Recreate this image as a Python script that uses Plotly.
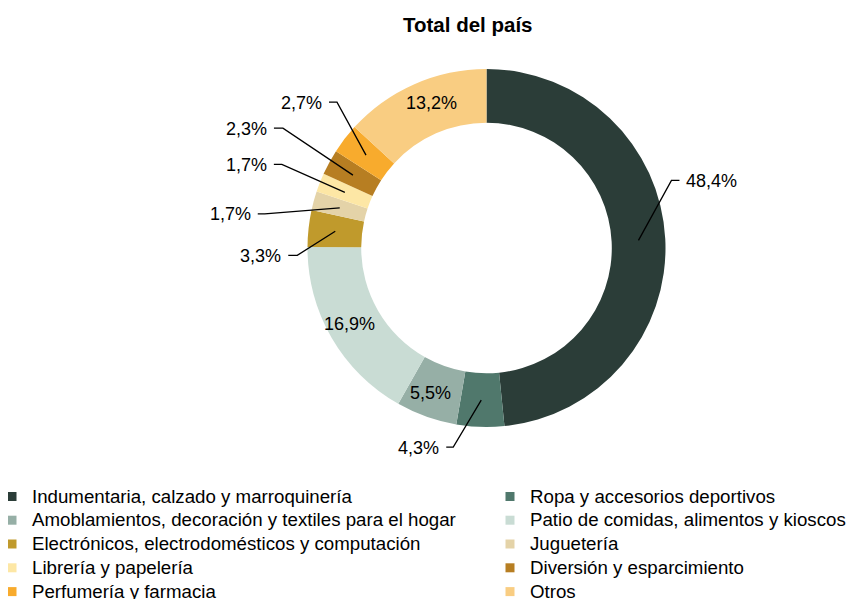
import math
import plotly.graph_objects as go

PAGE_OFFSET = 8  # the page body margin that the browser puts around the figure
W, H = 855 - PAGE_OFFSET, 599 - PAGE_OFFSET

# ---------------- data ----------------
title_text = "Total del país"
categories = [
    "Indumentaria, calzado y marroquinería",
    "Ropa y accesorios deportivos",
    "Amoblamientos, decoración y textiles para el hogar",
    "Patio de comidas, alimentos y kioscos",
    "Electrónicos, electrodomésticos y computación",
    "Juguetería",
    "Librería y papelería",
    "Diversión y esparcimiento",
    "Perfumería y farmacia",
    "Otros",
]
values = [48.4, 4.3, 5.5, 16.9, 3.3, 1.7, 1.7, 2.3, 2.7, 13.2]

# ---------------- style ----------------
colors = ["#2B3D38", "#50786C", "#96AFA6", "#C9DCD4", "#C09A2C",
          "#E4D3A8", "#FDE7A5", "#B77E22", "#F8AB2D", "#F9CD82"]
# label placement: ("in", dx, dy) or ("out", elbow_dx, elbow_dy, horizontal_len)
label_style = [
    ("out", 33, -60, 8),
    ("out", -28, 47, -7),
    ("in", -5, 2),
    ("in", -5, 0),
    ("out", -38, 24, -9),
    ("out", -75, 6, -7),
    ("out", -63, -28, -8),
    ("out", -70, -47, -9),
    ("out", -29, -53, -8),
    ("in", 6, -6),
]
FONT = "Arial, Liberation Sans, sans-serif"
# pie placement in page pixels
PIE_CX, PIE_CY, PIE_R = 486.5, 248.0, 179.0
HOLE = 0.70


def px(x):
    return (x - PAGE_OFFSET) / W


def py(y):
    return 1 - (y - PAGE_OFFSET) / H


domain_x = [px(PIE_CX - PIE_R), px(PIE_CX + PIE_R)]
domain_y = [py(PIE_CY + PIE_R), py(PIE_CY - PIE_R)]

fig = go.Figure()
fig.add_trace(go.Pie(
    labels=categories, values=values, sort=False, direction="clockwise",
    rotation=0, hole=HOLE, marker=dict(colors=colors, line=dict(width=0)),
    textinfo="none", hoverinfo="label+percent", showlegend=False,
    domain=dict(x=domain_x, y=domain_y),
))

# legend entries (two columns, as two legends)
for i, (cat, col) in enumerate(zip(categories, colors)):
    fig.add_trace(go.Scatter(
        x=[None], y=[None], mode="markers",
        name=f'<span style="font-size:18.7px">{cat}</span>',
        marker=dict(symbol="square", size=9, color=col),
        legend="legend" if i % 2 == 0 else "legend2", hoverinfo="skip",
    ))

# geometry of the pie in pixels (derived from its domain)
cx = (domain_x[0] + domain_x[1]) / 2 * W + PAGE_OFFSET
cy = (1 - (domain_y[0] + domain_y[1]) / 2) * H + PAGE_OFFSET
R = min((domain_x[1] - domain_x[0]) * W, (domain_y[1] - domain_y[0]) * H) / 2
r_mid = R * (1 + HOLE) / 2


def fmt(v):
    return f"{v:.1f}".replace(".", ",") + "%"


total = sum(values)
cum = 0.0
annotations = []
shapes = []
for v, st in zip(values, label_style):
    mid = (cum + v / 2) / total
    cum += v
    ang = 2 * math.pi * mid
    ax = cx + r_mid * math.sin(ang)
    ay = cy - r_mid * math.cos(ang)
    if st[0] == "in":
        annotations.append(dict(x=px(ax + st[1]), y=py(ay + st[2]), xref="paper", yref="paper",
                                text=fmt(v), showarrow=False, xanchor="center", yanchor="middle",
                                font=dict(family=FONT, size=18, color="#000000")))
    else:
        ex, ey = ax + st[1], ay + st[2]
        hx = ex + st[3]
        shapes.append(dict(type="path", xref="paper", yref="paper",
                           path=f"M {px(ax)} {py(ay)} L {px(ex)} {py(ey)} L {px(hx)} {py(ey)}",
                           line=dict(color="#000000", width=1.3)))
        right = st[3] < 0
        tx = hx + (-5 if right else 5)
        annotations.append(dict(x=px(tx), y=py(ey + 0.5), xref="paper", yref="paper",
                                text=fmt(v), showarrow=False,
                                xanchor="right" if right else "left", yanchor="middle",
                                font=dict(family=FONT, size=18, color="#000000")))

annotations.append(dict(x=px(467), y=py(24.7), xref="paper", yref="paper",
                        text=f"<b>{title_text}</b>", showarrow=False,
                        xanchor="center", yanchor="middle",
                        font=dict(family=FONT, size=20.5, color="#000000")))

legend_common = dict(orientation="v", yanchor="top", xanchor="left",
                     font=dict(family=FONT, size=16, color="#000000"),
                     bgcolor="rgba(0,0,0,0)", borderwidth=0, tracegroupgap=0)

fig.update_layout(
    width=W, height=H,
    margin=dict(l=0, r=0, t=0, b=0, autoexpand=False),
    paper_bgcolor="white", plot_bgcolor="white",
    xaxis=dict(visible=False), yaxis=dict(visible=False),
    annotations=annotations, shapes=shapes,
    legend=dict(x=px(-8), y=py(479.5), **legend_common),
    legend2=dict(x=px(490), y=py(479.5), **legend_common),
    separators=",.",
)

fig.write_html("out.html")
